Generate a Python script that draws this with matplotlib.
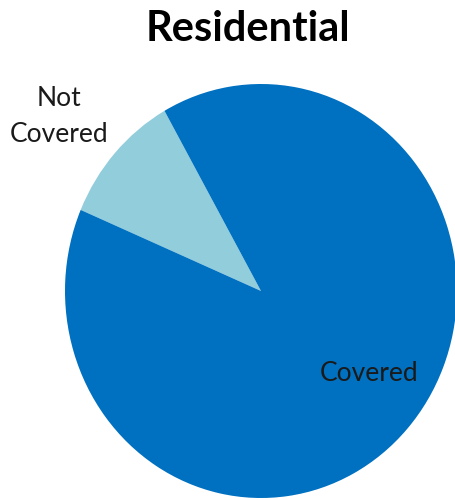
import matplotlib.pyplot as plt

labels = ["Not\nCovered", "Covered"]
values = [10.4, 89.6]
colors = ["#92CDDC", "#0070C0"]

plt.rcParams['font.family'] = ['Lato', 'DejaVu Sans']

fig = plt.figure(figsize=(4.56, 5.0), dpi=100)
# axes box in figure fraction so the pie fills the area like the original
ax = fig.add_axes([65 / 456, 2 / 500, 392 / 456, 414 / 500])

wedges, _ = ax.pie(values, colors=colors, startangle=119.5, counterclock=True,
                   radius=1.0, wedgeprops=dict(linewidth=0))
ax.set_aspect('auto')
ax.set_xlim(-1, 1)
ax.set_ylim(-1, 1)
ax.axis('off')

# data labels
ax.text(-1.03, 0.845, labels[0], ha='center', va='center', fontsize=19,
        color='#1a1a1a', linespacing=1.55, clip_on=False)
ax.text(0.55, -0.40, labels[1], ha='center', va='center', fontsize=19,
        color='#1a1a1a')

fig.text(248 / 456, 1 - 29 / 500, "Residential", ha='center', va='center',
         fontsize=30, fontweight='bold', color='black')

fig.savefig("out.png", dpi=100)
